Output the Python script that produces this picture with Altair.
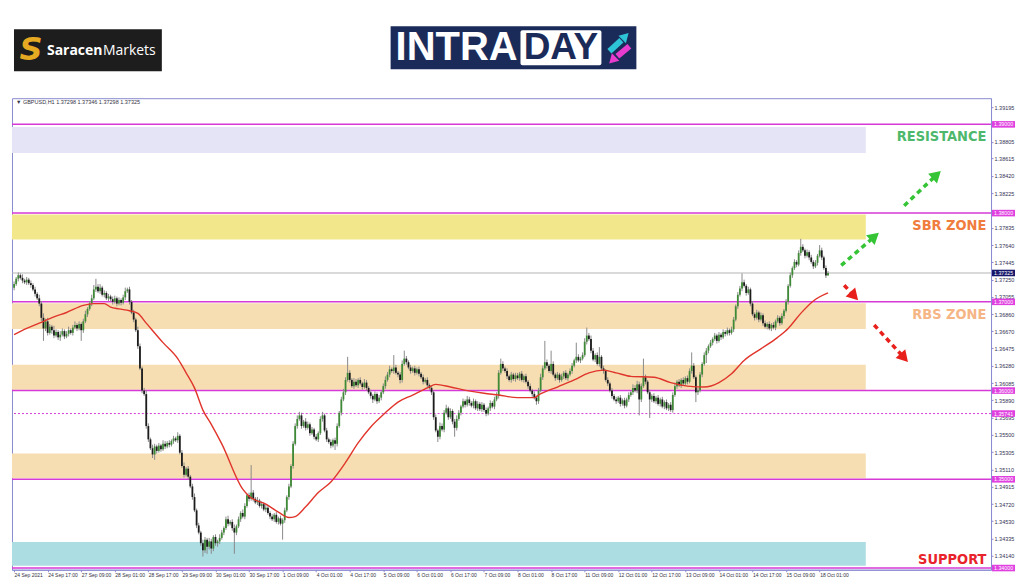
import altair as alt
import pandas as pd

# ---------------- data: GBPUSD H1, prices stored in pips above 1.3000 ----------------
BASE = 1.3
PIP = 0.0001

CLOSE_PIPS = [
    720, 726, 730, 727, 724, 722, 725, 721, 719, 714, 709, 704, 698, 682, 670, 678,
    665, 672, 668, 662, 666, 660, 663, 667, 661, 664, 668, 665, 671, 674, 670, 675,
    668, 678, 686, 692, 698, 704, 714, 717, 712, 716, 708, 710, 704, 706, 703, 700,
    704, 698, 702, 699, 705, 712, 714, 700, 688, 680, 668, 650, 625, 600, 596, 560,
    545, 535, 528, 537, 532, 538, 534, 540, 537, 541, 539, 543, 546, 544, 549, 530,
    515, 505, 512, 503, 492, 480, 465, 448, 440, 428, 420, 432, 424, 430, 422, 435,
    428, 430, 434, 440, 445, 455, 450, 452, 445, 440, 447, 455, 462, 458, 470, 482,
    478, 485, 478, 474, 476, 470, 472, 466, 468, 462, 458, 455, 460, 452, 456, 450,
    454, 465, 480, 492, 515, 540, 560, 568, 572, 560, 565, 558, 562, 552, 556, 548,
    545, 552, 568, 572, 555, 545, 542, 538, 544, 540, 560, 575, 590, 598, 612, 620,
    612, 605, 610, 606, 612, 608, 604, 609, 603, 598, 594, 590, 596, 588, 592, 598,
    605, 612, 618, 624, 622, 626, 620, 618, 612, 630, 636, 632, 626, 622, 625, 620,
    624, 619, 615, 610, 612, 606, 603, 598, 570, 555, 548, 560, 556, 575, 580, 570,
    577, 565, 558, 568, 575, 582, 588, 584, 590, 586, 583, 588, 580, 585, 579, 584,
    578, 574, 580, 586, 582, 590, 594, 620, 630, 625, 622, 616, 612, 618, 613, 617,
    614, 619, 612, 616, 610, 605, 600, 596, 592, 588, 600, 615, 625, 632, 628, 622,
    630, 618, 614, 618, 612, 616, 620, 614, 618, 622, 628, 634, 638, 634, 636, 640,
    655, 662, 658, 645, 635, 640, 630, 638, 625, 622, 612, 608, 600, 594, 590, 588,
    592, 585, 589, 583, 590, 595, 598, 603, 600, 607, 590, 605, 615, 610, 598, 590,
    594, 588, 592, 585, 590, 582, 587, 580, 584, 578, 595, 605, 610, 606, 612, 608,
    614, 610, 622, 628, 615, 598, 600, 618, 630, 640, 645, 650, 654, 658, 662, 656,
    663, 660, 666, 664, 668, 665, 669, 680, 695, 708, 715, 722, 718, 710, 714, 698,
    686, 682, 688, 680, 685, 676, 672, 675, 670, 674, 671, 678, 682, 676, 684, 690,
    700, 718, 730, 738, 745, 742, 755, 762, 758, 752, 756, 750, 745, 740, 744, 752,
    758, 750, 738, 729.8, 732.5,
]
FIRST_OPEN_PIPS = 716

UPPER_WICK_PIPS = [
    3, 2, 3, 2, 4, 2, 3, 2, 3, 2, 3, 2, 4, 3, 5, 3,
    4, 3, 2, 5, 3, 2, 4, 3, 2, 3, 4, 2, 3, 4, 2, 3,
    2, 3, 4, 2, 3, 4, 5, 9, 3, 4, 2, 3, 2, 3, 2, 3,
    3, 2, 3, 2, 3, 4, 2, 3, 2, 3, 2, 4, 3, 2, 3, 4,
    3, 2, 4, 3, 2, 3, 2, 4, 3, 2, 3, 2, 3, 2, 4, 2,
    3, 4, 2, 3, 2, 3, 4, 2, 3, 2, 4, 3, 2, 4, 3, 2,
    3, 2, 4, 3, 2, 3, 4, 2, 3, 4, 2, 3, 2, 4, 3, 2,
    3, 31, 3, 2, 4, 2, 3, 2, 4, 3, 2, 3, 2, 3, 2, 3,
    2, 3, 2, 3, 2, 3, 3, 4, 4, 3, 2, 4, 3, 2, 3, 2,
    3, 2, 3, 4, 2, 3, 2, 3, 2, 3, 3, 2, 3, 4, 3, 18,
    3, 2, 4, 3, 2, 3, 2, 4, 3, 2, 3, 2, 3, 2, 3, 2,
    3, 4, 3, 4, 2, 14, 3, 2, 3, 4, 9, 3, 2, 3, 2, 3,
    2, 3, 2, 3, 2, 3, 2, 3, 2, 3, 2, 4, 3, 3, 4, 2,
    3, 2, 3, 4, 3, 2, 3, 2, 4, 3, 2, 3, 2, 3, 2, 3,
    2, 3, 2, 3, 2, 3, 4, 3, 6, 3, 2, 3, 2, 3, 2, 3,
    3, 2, 3, 2, 3, 2, 3, 2, 3, 2, 3, 4, 3, 24, 3, 2,
    15, 3, 2, 3, 2, 3, 2, 3, 2, 3, 3, 2, 16, 3, 2, 3,
    4, 9, 3, 4, 3, 2, 3, 11, 2, 3, 2, 3, 2, 3, 2, 3,
    2, 3, 2, 3, 2, 3, 2, 4, 3, 4, 3, 3, 21, 3, 2, 3,
    2, 3, 2, 3, 2, 3, 2, 3, 2, 3, 3, 4, 2, 3, 2, 3,
    2, 3, 3, 15, 3, 2, 3, 3, 2, 3, 3, 2, 3, 2, 3, 2,
    3, 2, 3, 2, 3, 2, 3, 3, 2, 3, 3, 10, 3, 2, 3, 2,
    3, 2, 3, 2, 3, 2, 3, 2, 3, 2, 3, 2, 3, 2, 3, 2,
    3, 2, 3, 2, 3, 2, 3, 9, 3, 2, 3, 2, 3, 2, 3, 2,
    6, 3, 2, 3, 2.1,
]

LOWER_WICK_PIPS = [
    3, 2, 3, 2, 3, 2, 3, 2, 3, 2, 3, 2, 3, 4, 14, 3,
    3, 2, 4, 3, 2, 3, 4, 2, 3, 2, 3, 2, 3, 2, 3, 2,
    12, 3, 2, 3, 2, 3, 2, 3, 2, 3, 2, 3, 2, 3, 2, 3,
    2, 3, 2, 3, 2, 3, 2, 3, 2, 3, 2, 3, 2, 3, 2, 3,
    3, 2, 4, 6, 3, 2, 3, 2, 3, 2, 3, 2, 3, 2, 3, 2,
    2, 3, 2, 3, 2, 3, 2, 3, 2, 3, 7, 3, 8, 3, 6, 3,
    3, 4, 3, 2, 3, 2, 3, 2, 3, 24, 3, 2, 3, 2, 3, 2,
    3, 2, 3, 2, 3, 2, 3, 2, 3, 2, 3, 2, 3, 2, 3, 2,
    18, 3, 2, 3, 2, 3, 2, 3, 2, 3, 2, 3, 2, 3, 2, 3,
    2, 3, 2, 3, 2, 3, 2, 3, 2, 7, 3, 2, 3, 2, 3, 2,
    3, 2, 3, 2, 3, 2, 3, 2, 3, 2, 3, 4, 2, 3, 2, 3,
    2, 3, 2, 3, 2, 3, 2, 3, 4, 3, 2, 3, 2, 3, 2, 3,
    2, 3, 2, 3, 2, 3, 2, 3, 3, 2, 6, 3, 2, 3, 2, 3,
    2, 3, 10, 3, 2, 3, 2, 3, 2, 3, 2, 3, 2, 3, 2, 3,
    2, 3, 2, 3, 2, 3, 2, 3, 2, 3, 2, 3, 2, 3, 2, 3,
    2, 3, 2, 3, 2, 3, 2, 3, 2, 4, 3, 2, 3, 2, 3, 2,
    3, 2, 3, 2, 3, 2, 3, 2, 3, 2, 3, 2, 3, 2, 3, 2,
    2, 3, 2, 3, 2, 3, 2, 3, 2, 3, 2, 3, 2, 3, 2, 3,
    2, 3, 2, 3, 2, 3, 2, 3, 2, 3, 18, 3, 2, 3, 2, 21,
    3, 2, 3, 2, 3, 2, 3, 2, 3, 2, 3, 2, 3, 2, 3, 2,
    2, 3, 2, 3, 2, 11, 3, 2, 3, 2, 9, 3, 2, 3, 2, 3,
    2, 3, 2, 3, 2, 3, 2, 3, 2, 3, 2, 3, 2, 3, 2, 3,
    2, 3, 2, 3, 2, 3, 2, 3, 2, 3, 2, 3, 2, 3, 2, 3,
    2, 3, 2, 3, 2, 3, 2, 3, 2, 3, 2, 3, 2, 3, 2, 3,
    2, 3, 2, 3, 0,
]

# moving average (red line) at these bar indices
MA_BARS = [0, 6, 12, 19, 25, 33, 38, 43, 46, 50, 55, 59, 63, 71, 78, 82, 86, 90, 94, 99,
           109, 112, 120, 126, 131, 134, 139, 145, 151, 158, 164, 170, 177, 183, 190, 197,
           201, 208, 216, 224, 231, 240, 248, 250, 259, 267, 274, 281, 287, 294, 305, 313,
           321, 329, 336, 342, 348, 356, 364, 369, 375, 381, 388]
MA_PIPS = [663, 670, 676, 683, 688, 696, 698, 698, 694, 692, 690, 687, 676, 654, 636, 620,
           603, 578, 562, 540, 489, 481, 472, 463, 457, 458, 469, 485, 497, 519, 541, 559,
           575, 587, 595, 603, 607, 604, 600, 597, 595, 592, 592, 595, 604, 612, 620, 623,
           620, 616, 615, 609, 605, 604, 609, 619, 634, 647, 660, 670, 687, 701, 710]

X_LABELS = ["24 Sep 2021", "24 Sep 17:00", "27 Sep 09:00", "28 Sep 01:00", "28 Sep 17:00",
            "29 Sep 09:00", "30 Sep 01:00", "30 Sep 17:00", "1 Oct 09:00", "4 Oct 01:00",
            "4 Oct 17:00", "5 Oct 09:00", "6 Oct 01:00", "6 Oct 17:00", "7 Oct 09:00",
            "8 Oct 01:00", "8 Oct 17:00", "11 Oct 09:00", "12 Oct 01:00", "12 Oct 17:00",
            "13 Oct 09:00", "14 Oct 01:00", "14 Oct 17:00", "15 Oct 09:00", "18 Oct 01:00"]
X_LABEL_STEP = 16  # one label every 16 hourly bars

Y_TICKS = [1.39195, 1.38805, 1.38615, 1.38420, 1.38225, 1.37835, 1.37640, 1.37445,
           1.37250, 1.37055, 1.36860, 1.36670, 1.36475, 1.36280, 1.36085, 1.35890,
           1.35695, 1.35500, 1.35305, 1.35110, 1.34915, 1.34720, 1.34530, 1.34335, 1.34140]

ZONE_LOW = [1.38678, 1.37703, 1.36694, 1.36010, 1.35012, 1.34025]
ZONE_HIGH = [1.38970, 1.37983, 1.36985, 1.36290, 1.35292, 1.34294]
ZONE_COLORS = ["#e4e4f6", "#f3e78c", "#f6deb2", "#f6deb2", "#f6deb2", "#acdde3"]
ZONE_FROM_BAR = -1
ZONE_TO_BAR = 406

LEVELS = [1.39, 1.38, 1.37, 1.36, 1.35, 1.34]
DOTTED_LEVEL = 1.35741
LAST_PRICE = 1.37325

ANNOT_TEXT = ["RESISTANCE", "SBR ZONE", "RBS ZONE", "SUPPORT"]
ANNOT_PRICE = [1.38856, 1.37860, 1.36852, 1.34093]
ANNOT_COLOR = ["#4db86b", "#f07c3e", "#f5b585", "#e8232b"]
ANNOT_BAR = 463.5

ARROW_COLOR = ["#35c435", "#35c435", "#e8201c", "#e8201c"]
ARROW_BAR0 = [394.3, 424.3, 395.7, 410.0]
ARROW_PRICE0 = [1.37411, 1.38084, 1.37187, 1.36739]
ARROW_BAR1 = [410.2, 439.8, 400.5, 424.3]
ARROW_PRICE1 = [1.37737, 1.38432, 1.37064, 1.36369]
ARROW_ANGLE = [49, 47, 137, 138]

INFO = "\u25bc GBPUSD,H1  1.37298 1.37346 1.37298 1.37325"

# ---------------- styling ----------------
FRAME = "#8b8bd1"
MAG = "#d63ad6"
MAG_BOX = "#e040e0"
NAVY_BOX = "#16166a"
AXIS_FONT = "Liberation Sans"
ANNOT_FONT = "Liberation Sans Narrow, DejaVu Sans Condensed, sans-serif"
W, H = 980, 472

xs = alt.Scale(domain=[-1, 465.7], nice=False, zero=False, padding=0)
ys = alt.Scale(domain=[1.33981, 1.39295], nice=False, zero=False, padding=0)

label_array = "[" + ",".join("'%s'" % s for s in X_LABELS) + "]"
x_axis = alt.Axis(orient="bottom", values=[i * X_LABEL_STEP for i in range(len(X_LABELS))],
                  labelExpr=label_array + "[round(datum.value/%d)]" % X_LABEL_STEP,
                  labelAlign="left", labelFontSize=5, labelFont=AXIS_FONT, labelColor="#333344",
                  labelPadding=1, tickSize=2, tickColor=FRAME, domainColor=FRAME,
                  labelOverlap=False, labelFlush=False, grid=False, title=None)
y_axis = alt.Axis(orient="right", values=Y_TICKS, format=".5f", labelFontSize=5.5,
                  labelFont=AXIS_FONT, labelColor="#333355", labelPadding=1, tickSize=2,
                  tickColor=FRAME, domainColor=FRAME, labelOverlap=False, grid=False, title=None)


def X(f):
    return alt.X(f, type="quantitative", scale=xs, axis=x_axis)


def Y(f):
    return alt.Y(f, type="quantitative", scale=ys, axis=y_axis)


# candles
opens = [FIRST_OPEN_PIPS] + CLOSE_PIPS[:-1]  # each hourly bar opens at the previous close
rows = []
for i, c in enumerate(CLOSE_PIPS):
    o = opens[i]
    rows.append({
        "bar": i,
        "open": BASE + o * PIP,
        "close": BASE + c * PIP,
        "high": BASE + (max(o, c) + UPPER_WICK_PIPS[i]) * PIP,
        "low": BASE + (min(o, c) - LOWER_WICK_PIPS[i]) * PIP,
        "dir": "up" if c >= o else "down",
    })
candles = pd.DataFrame(rows)

ma = pd.DataFrame({"bar": MA_BARS, "price": [BASE + p * PIP for p in MA_PIPS]})
zones = pd.DataFrame({"x0": ZONE_FROM_BAR, "x1": ZONE_TO_BAR, "lo": ZONE_LOW, "hi": ZONE_HIGH,
                      "color": ZONE_COLORS})
levels = pd.DataFrame({"price": LEVELS})
annots = pd.DataFrame({"text": ANNOT_TEXT, "price": ANNOT_PRICE, "color": ANNOT_COLOR,
                       "bar": ANNOT_BAR})
arrow_rows = []
for k in range(len(ARROW_COLOR)):
    arrow_rows.append({"id": k, "bar": ARROW_BAR0[k], "price": ARROW_PRICE0[k], "color": ARROW_COLOR[k]})
    arrow_rows.append({"id": k, "bar": ARROW_BAR1[k], "price": ARROW_PRICE1[k], "color": ARROW_COLOR[k]})
arrow_lines = pd.DataFrame(arrow_rows)
arrow_heads = pd.DataFrame({"bar": ARROW_BAR1, "price": ARROW_PRICE1, "color": ARROW_COLOR,
                            "angle": ARROW_ANGLE})
boxes = pd.DataFrame({
    "price": LEVELS + [DOTTED_LEVEL, LAST_PRICE],
    "color": [MAG_BOX] * (len(LEVELS) + 1) + [NAVY_BOX],
})
boxes["label"] = boxes["price"].map(lambda p: "%.5f" % p)
BOX_HALF = 0.00037
boxes["lo"] = boxes["price"] - BOX_HALF
boxes["hi"] = boxes["price"] + BOX_HALF

zone_layer = alt.Chart(zones).mark_rect().encode(
    x=X("x0"), x2="x1", y=Y("lo"), y2="hi",
    color=alt.Color("color:N", scale=None))
level_layer = alt.Chart(levels).mark_rule(color=MAG, strokeWidth=1.5).encode(y=Y("price"))
dotted_layer = alt.Chart(pd.DataFrame({"price": [DOTTED_LEVEL]})).mark_rule(
    color=MAG, strokeWidth=1, strokeDash=[2, 2]).encode(y=Y("price"))
last_layer = alt.Chart(pd.DataFrame({"price": [LAST_PRICE]})).mark_rule(
    color="#b4b4b4", strokeWidth=1).encode(y=Y("price"))
wick_layer = alt.Chart(candles).mark_rule(strokeWidth=1, color="#8a8a8a").encode(
    x=X("bar"), y=Y("low"), y2="high")
body_layer = alt.Chart(candles).mark_bar(width=1.8).encode(
    x=X("bar"), y=Y("open"), y2="close",
    color=alt.Color("dir:N", scale=alt.Scale(domain=["up", "down"], range=["#3f8a36", "#1c1c1c"]),
                    legend=None))
ma_layer = alt.Chart(ma).mark_line(color="#e0352b", strokeWidth=1.4, interpolate="monotone").encode(
    x=X("bar"), y=Y("price"))
arrow_line_layer = alt.Chart(arrow_lines).mark_line(strokeWidth=3.5, strokeDash=[5, 4]).encode(
    x=X("bar"), y=Y("price"), detail="id:N", color=alt.Color("color:N", scale=None))
arrow_head_layer = alt.Chart(arrow_heads).mark_point(shape="triangle-up", filled=True, size=170,
                                                     opacity=1).encode(
    x=X("bar"), y=Y("price"), angle=alt.Angle("angle:Q", scale=None),
    color=alt.Color("color:N", scale=None))
annot_layer = alt.Chart(annots).mark_text(align="right", baseline="middle", fontSize=14.5,
                                           fontWeight="bold", font=ANNOT_FONT).encode(
    x=X("bar"), y=Y("price"), text="text:N", color=alt.Color("color:N", scale=None))
box_layer = alt.Chart(boxes).mark_rect().encode(
    x=alt.value(W + 1), x2=alt.value(W + 24), y=Y("lo"), y2="hi",
    color=alt.Color("color:N", scale=None))
box_text_layer = alt.Chart(boxes).mark_text(align="left", baseline="middle", fontSize=5.3,
                                             font=AXIS_FONT, color="white").encode(
    x=alt.value(W + 3), y=Y("price"), text="label:N")
info_layer = alt.Chart(pd.DataFrame({"t": [INFO]})).mark_text(
    align="left", baseline="top", fontSize=5.5, font=AXIS_FONT, color="#333344").encode(
    x=alt.value(4), y=alt.value(2), text="t:N")

main = alt.layer(zone_layer, level_layer, dotted_layer, last_layer, wick_layer, body_layer,
                 ma_layer, arrow_line_layer, arrow_head_layer, annot_layer, box_layer,
                 box_text_layer, info_layer).properties(
    width=W, height=H, view=alt.ViewBackground(stroke=FRAME, strokeWidth=1))

# ---------------- header with the two logos ----------------
one = pd.DataFrame({"k": [0]})


def hrect(x0, x1, y0, y1, color, **kw):
    return alt.Chart(one).mark_rect(color=color, **kw).encode(
        x=alt.value(x0), x2=alt.value(x1), y=alt.value(y0), y2=alt.value(y1))


def htext(txt, x, y, **kw):
    return alt.Chart(one).mark_text(text=txt, baseline="middle", **kw).encode(
        x=alt.value(x), y=alt.value(y))


def hrule(x0, y0, x1, y1, color, w):
    return alt.Chart(one).mark_rule(color=color, strokeWidth=w).encode(
        x=alt.value(x0), x2=alt.value(x1), y=alt.value(y0), y2=alt.value(y1))


def hhead(x, y, color, angle, size):
    return alt.Chart(one).mark_point(shape="triangle-up", filled=True, opacity=1, color=color,
                                     size=size, angle=angle).encode(x=alt.value(x), y=alt.value(y))


NAVY = "#1b2b59"
header = alt.layer(
    hrect(2, 150, 20, 62, "#1d1d1d"),
    htext("S", 19, 41, align="center", fontSize=32, fontWeight="bold", fontStyle="italic",
          font="DejaVu Sans", color="#e6a922"),
    htext("Saracen", 35, 42, align="left", fontSize=14, fontWeight="bold", font="Open Sans",
          color="white"),
    htext("Markets", 91, 42, align="left", fontSize=14, font="Open Sans", color="white"),
    hrect(379, 625, 17, 60, NAVY),
    hrect(509, 590, 21, 56, "white", cornerRadius=2),
    htext("INTRA", 384, 39, align="left", fontSize=40, fontWeight="bold", font="Liberation Sans",
          color="white"),
    htext("DAY", 549.5, 39, align="center", fontSize=37, fontWeight="bold",
          font="Liberation Sans", color=NAVY),
    hrule(598, 42, 610, 31, "#2ec4d8", 6),
    hhead(614, 27, "#2ec4d8", 45, 110),
    hrule(618, 37, 606, 47, "#e83ccf", 6),
    hhead(601, 51, "#e83ccf", 225, 110),
).properties(width=W, height=80, view=alt.ViewBackground(stroke="transparent"))

chart = alt.vconcat(header, main, spacing=7).properties(
    padding={"left": 2, "top": 0, "right": 0, "bottom": 0},
    background="white",
).configure_view(stroke="transparent")

chart.save("out.html", embed_options={"renderer": "svg", "actions": False})
